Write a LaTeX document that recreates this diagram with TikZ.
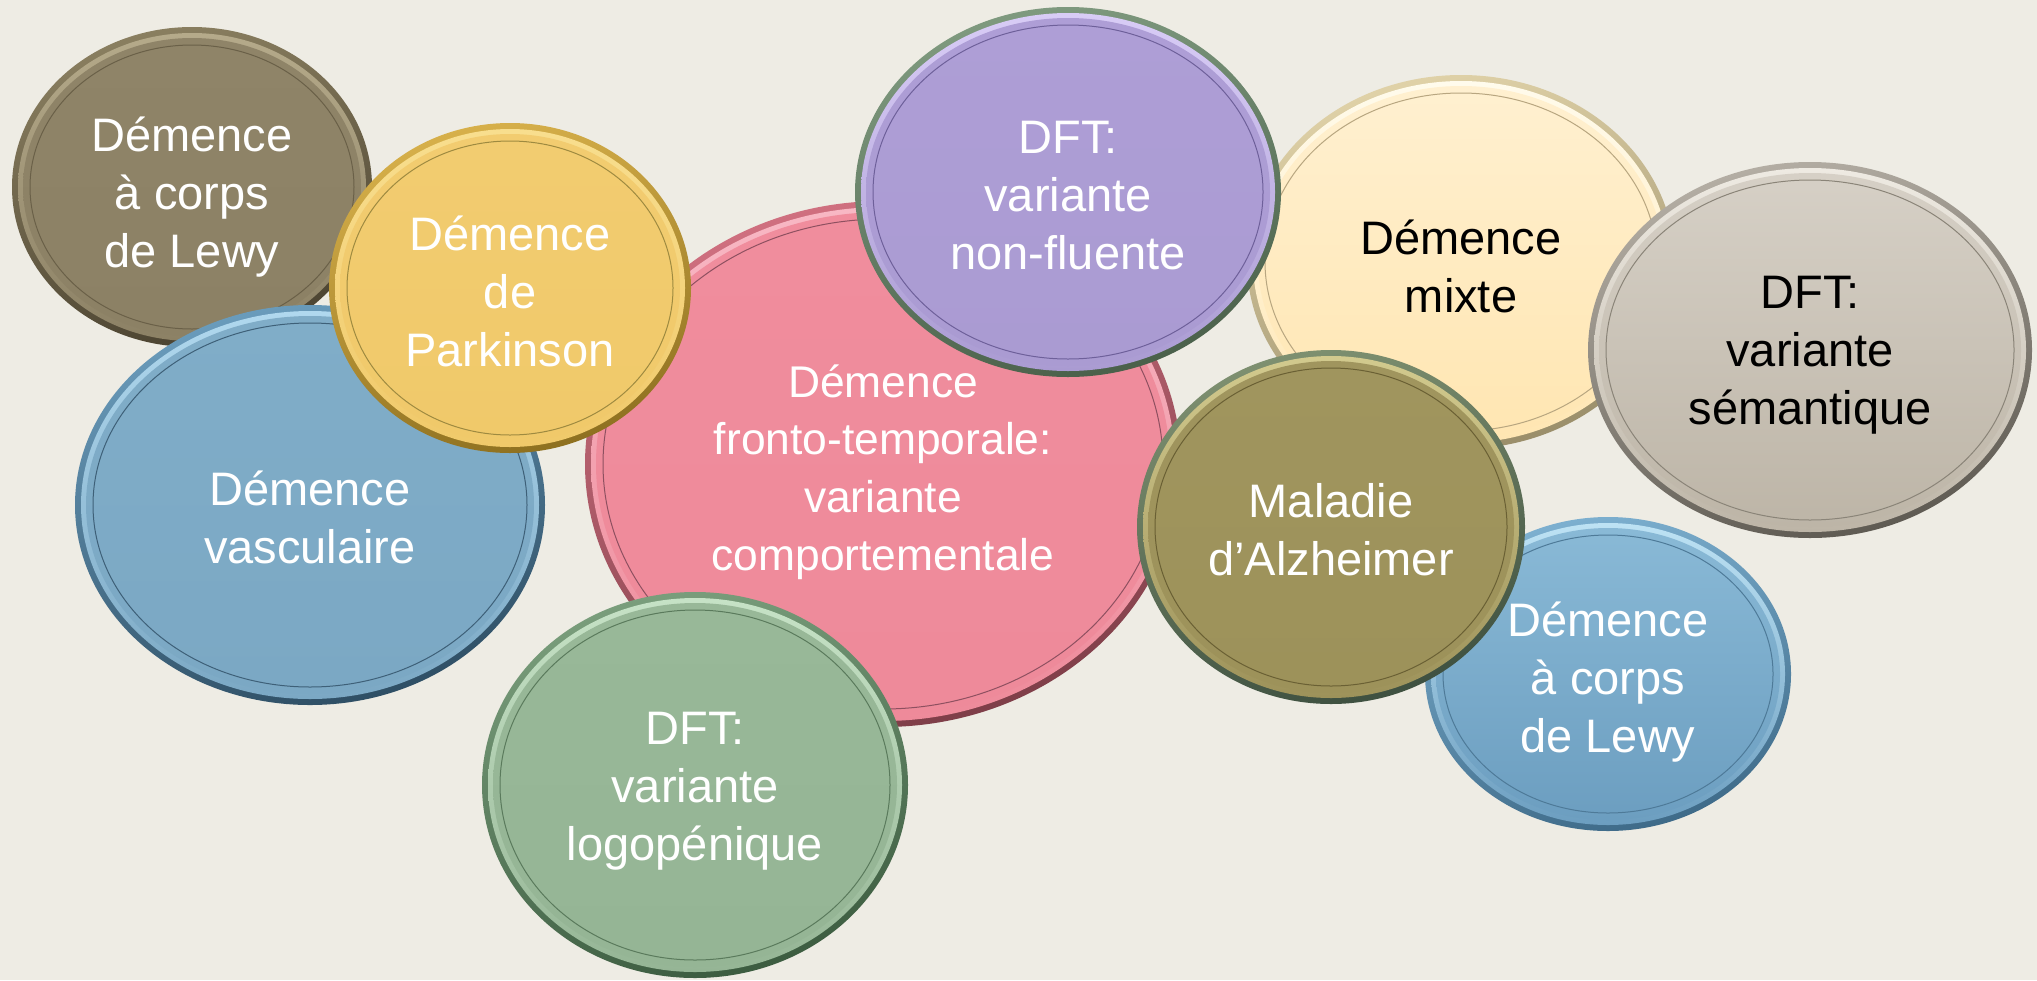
\documentclass[tikz,border=0pt]{standalone}
\usepackage{fontspec}
\setmainfont{Liberation Sans}
\definecolor{bg}{HTML}{EEECE4}
% brown
\definecolor{brtop}{HTML}{8F8468}\definecolor{brbot}{HTML}{8C8165}\definecolor{brhi}{HTML}{B5AA8A}
\definecolor{brrl}{HTML}{8A7F60}\definecolor{brrd}{HTML}{4A4230}\definecolor{brln}{HTML}{6A6048}
% yellow
\definecolor{yetop}{HTML}{F2CC70}\definecolor{yebot}{HTML}{F0C96A}\definecolor{yehi}{HTML}{F8DE8E}
\definecolor{yerl}{HTML}{D7B04A}\definecolor{yerd}{HTML}{8E7020}\definecolor{yeln}{HTML}{9E8A40}
% blue vasc
\definecolor{bvtop}{HTML}{80ADC8}\definecolor{bvbot}{HTML}{7BA8C4}\definecolor{bvhi}{HTML}{B0D8EE}
\definecolor{bvrl}{HTML}{6A9CBC}\definecolor{bvrd}{HTML}{2E4E64}\definecolor{bvln}{HTML}{3E6078}
% pink
\definecolor{pktop}{HTML}{F08D9D}\definecolor{pkbot}{HTML}{EE8A9A}\definecolor{pkhi}{HTML}{F8B8C4}
\definecolor{pkrl}{HTML}{D07080}\definecolor{pkrd}{HTML}{7E3E48}\definecolor{pkln}{HTML}{8E5060}
% purple
\definecolor{putop}{HTML}{AE9ED6}\definecolor{pubot}{HTML}{AA9BD2}\definecolor{puhi}{HTML}{D8CCF6}
\definecolor{purl}{HTML}{7F9A7F}\definecolor{purd}{HTML}{4A604A}\definecolor{puln}{HTML}{6E609A}
% cream
\definecolor{crtop}{HTML}{FFF0D0}\definecolor{crbot}{HTML}{FFE6B2}\definecolor{crhi}{HTML}{FFFBEC}
\definecolor{crrl}{HTML}{E0D2A8}\definecolor{crrd}{HTML}{9A8E6A}\definecolor{crln}{HTML}{B8A680}
% gray
\definecolor{grtop}{HTML}{D6D0C6}\definecolor{grbot}{HTML}{BDB5A7}\definecolor{grhi}{HTML}{EEEAE2}
\definecolor{grrl}{HTML}{B4AEA4}\definecolor{grrd}{HTML}{5E5A52}\definecolor{grln}{HTML}{8A8478}
% olive
\definecolor{oltop}{HTML}{A0955E}\definecolor{olbot}{HTML}{9D925A}\definecolor{olhi}{HTML}{D2CA8E}
\definecolor{olrl}{HTML}{7E9070}\definecolor{olrd}{HTML}{3E5040}\definecolor{olln}{HTML}{6A6034}
% blue small
\definecolor{bstop}{HTML}{89B9D6}\definecolor{bsbot}{HTML}{6C9EC0}\definecolor{bshi}{HTML}{BDE2F4}
\definecolor{bsrl}{HTML}{7DB0D0}\definecolor{bsrd}{HTML}{3E6A88}\definecolor{bsln}{HTML}{4E7A98}
% green
\definecolor{gntop}{HTML}{98B898}\definecolor{gnbot}{HTML}{95B595}\definecolor{gnhi}{HTML}{C6E2C6}
\definecolor{gnrl}{HTML}{7A9E7C}\definecolor{gnrd}{HTML}{3C5C40}\definecolor{gnln}{HTML}{5A7A5C}

% #1 label style, #2 name, #3 centre, #4 rx, #5 ry, #6 colour prefix, #7 text
\newcommand{\bub}[7]{%
  \shade[top color=#6rl, bottom color=#6rd, shading angle=15] (#3) ellipse [x radius=#4, y radius=#5];
  \shade[top color=#6hi, bottom color=#6bot] (#3) ellipse [x radius=#4-6, y radius=#5-6];
  \shade[top color=#6top, bottom color=#6bot] (#3) ellipse [x radius=#4-11, y radius=#5-11];
  \draw[#6ln, line width=0.5pt] (#3) ellipse [x radius=#4-18, y radius=#5-18];
  \node[lbl,#1] (#2) at (#3) {#7};
}

\begin{document}
\begin{tikzpicture}[x=0.5pt,y=-0.5pt,
  lbl/.style={text=white, align=center, inner sep=0pt, font=\fontsize{23.5}{29}\selectfont},
  dark/.style={text=black},
  big/.style={font=\fontsize{22.2}{28.8}\selectfont}]
\useasboundingbox (0,0) rectangle (2037,980);
\fill[bg] (0,0) rectangle (2037,980);

\bub{yshift=-5pt}{lewy1}{192,187}{180}{160}{br}{Démence\\à corps\\de Lewy}
\bub{yshift=-6pt}{vasc}{310,505}{235}{200}{bv}{Démence\\vasculaire}
\bub{big,yshift=-4pt}{ftd}{883,464}{298}{263}{pk}{Démence\\fronto-temporale:\\variante\\comportementale}
\bub{yshift=-1.5pt}{park}{510,288}{181}{165}{ye}{Démence\\de\\Parkinson}
\bub{dark,yshift=-2pt}{mixte}{1461,262}{214}{187}{cr}{Démence\\mixte}
\bub{yshift=-2pt}{nonfl}{1068,192}{213}{185}{pu}{DFT:\\variante\\non-fluente}
\bub{dark,yshift=-2.5pt}{sem}{1810,350}{222}{188}{gr}{DFT:\\variante\\sémantique}
\bub{yshift=-4pt}{lewy2}{1608,674}{183}{157}{bs}{Démence\\à corps\\de Lewy}
\bub{yshift=-1.5pt}{alz}{1331,527}{194}{177}{ol}{Maladie\\d’Alzheimer}
\bub{yshift=-3pt}{logo}{695,785}{213}{193}{gn}{DFT:\\variante\\logopénique}
\end{tikzpicture}
\end{document}
